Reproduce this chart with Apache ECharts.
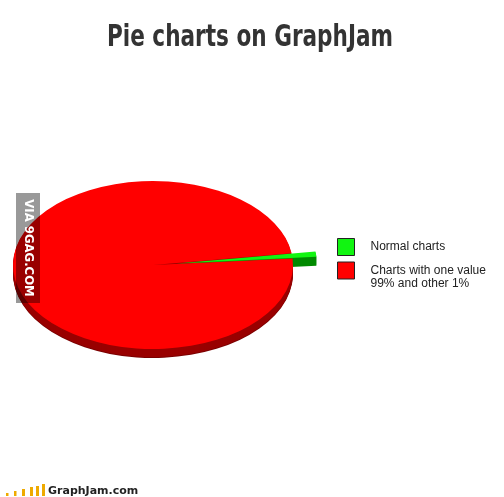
<!DOCTYPE html>
<html>
<head>
<meta charset="utf-8">
<script src="https://cdn.jsdelivr.net/npm/echarts@6/dist/echarts.min.js"></script>
<style>
  html, body { margin: 0; padding: 0; background: #fff; }
  #main { width: 504px; height: 497px; }
</style>
</head>
<body>
<div id="main"></div>
<script>
// chart values
var categories = ['Normal charts', 'Charts with one value\n99% and other 1%'];
var shares = [1, 99];

// styles
var topColors = ['#11f511', '#ff0000'];
var sideColors = ['#008a00', '#990000'];
var explode = [24, 0];

var pieBox = { cx: 153, cy: 265, rx: 140, ry: 84, depth: 9, startDeg: 4.5 };

var total = 0;
for (var i = 0; i < shares.length; i++) total += shares[i];

function renderSlice(params, api) {
  var idx = params.seriesIndex;
  var before = 0;
  for (var k = 0; k < idx; k++) before += shares[k];
  var v = api.value(0);
  var a0 = pieBox.startDeg + 360 * before / total;
  var a1 = a0 + 360 * v / total;
  var mid = (a0 + a1) / 2 * Math.PI / 180;
  var sy = pieBox.ry / pieBox.rx;
  var ox = pieBox.cx + explode[idx] * Math.cos(mid);
  var oy = pieBox.cy - explode[idx] * Math.sin(mid) * sy;
  var shape = {
    cx: 0, cy: 0, r0: 0, r: pieBox.rx,
    startAngle: -a1 * Math.PI / 180,
    endAngle: -a0 * Math.PI / 180,
    clockwise: true
  };
  var kids = [];
  // side wall: stacked copies below the top face
  for (var d = pieBox.depth; d >= 1; d--) {
    kids.push({
      type: 'sector', x: ox, y: oy + d, scaleY: sy,
      shape: shape, z2: idx == 0 ? 1 : 0,
      style: { fill: (d == pieBox.depth && idx != 0) ? '#7a0000' : sideColors[idx] }
    });
  }
  kids.push({
    type: 'sector', x: ox, y: oy, scaleY: sy,
    shape: shape, z2: idx == 0 ? 11 : 10,
    style: { fill: topColors[idx] }
  });
  return { type: 'group', children: kids };
}

var series = [];
for (var j = 0; j < categories.length; j++) {
  series.push({
    type: 'custom',
    name: categories[j],
    coordinateSystem: 'none',
    itemStyle: { color: topColors[j] },
    renderItem: renderSlice,
    data: [[shares[j]]],
    silent: true
  });
}

var legendText = {
  fontFamily: 'Liberation Sans, Arial, sans-serif',
  fontSize: 12,
  color: '#222',
  lineHeight: 13,
  padding: [0, 0, 0, 11]
};

var chart = echarts.init(document.getElementById('main'));
chart.setOption({
  backgroundColor: '#fff',
  animation: false,
  legend: [{
    data: [categories[0]],
    orient: 'vertical',
    left: 337, top: 238, padding: 0,
    itemWidth: 17, itemHeight: 17,
    icon: 'rect',
    itemStyle: { borderColor: '#222', borderWidth: 1 },
    textStyle: legendText,
    selectedMode: false
  }, {
    data: [categories[1]],
    orient: 'vertical',
    left: 337, top: 251, padding: 0,
    itemWidth: 17, itemHeight: 17,
    icon: 'rect',
    itemStyle: { borderColor: '#222', borderWidth: 1 },
    textStyle: legendText,
    // blank first line keeps the square level with the first text line
    formatter: function (name) { return ' \n' + name; },
    selectedMode: false
  }],
  graphic: [
    // title, squeezed to look like the condensed original
    { type: 'text', x: 250, y: 38, scaleX: 0.8,
      style: { text: 'Pie charts on GraphJam', fill: '#333', align: 'center', verticalAlign: 'middle',
               font: 'bold 30px "DejaVu Sans Condensed"' } },
    // watermark
    { type: 'rect', left: 16, top: 193, z: 100,
      shape: { width: 24, height: 110 },
      style: { fill: 'rgba(0,0,0,0.4)' } },
    { type: 'text', x: 28, y: 248, rotation: -Math.PI / 2, z: 101,
      style: { text: 'VIA 9GAG.COM', fill: '#fff', align: 'center', verticalAlign: 'middle',
               font: 'bold 13px "DejaVu Sans Condensed"' } },
    // footer logo
    { type: 'rect', shape: { x: 6, y: 493, width: 2.5, height: 3 }, style: { fill: '#eeaa00' } },
    { type: 'rect', shape: { x: 14, y: 491, width: 2.5, height: 5 }, style: { fill: '#eeaa00' } },
    { type: 'rect', shape: { x: 22, y: 489, width: 3, height: 7 }, style: { fill: '#eeaa00' } },
    { type: 'rect', shape: { x: 30, y: 487, width: 3, height: 9 }, style: { fill: '#eeaa00' } },
    { type: 'rect', shape: { x: 36, y: 486, width: 3, height: 10 }, style: { fill: '#eeaa00' } },
    { type: 'rect', shape: { x: 42, y: 484, width: 3, height: 12 }, style: { fill: '#eeaa00' } },
    { type: 'text', x: 48, y: 491,
      style: { text: 'GraphJam.com', fill: '#222', verticalAlign: 'middle',
               font: 'bold 11px "DejaVu Sans"' } }
  ],
  series: series
});
</script>
</body>
</html>
